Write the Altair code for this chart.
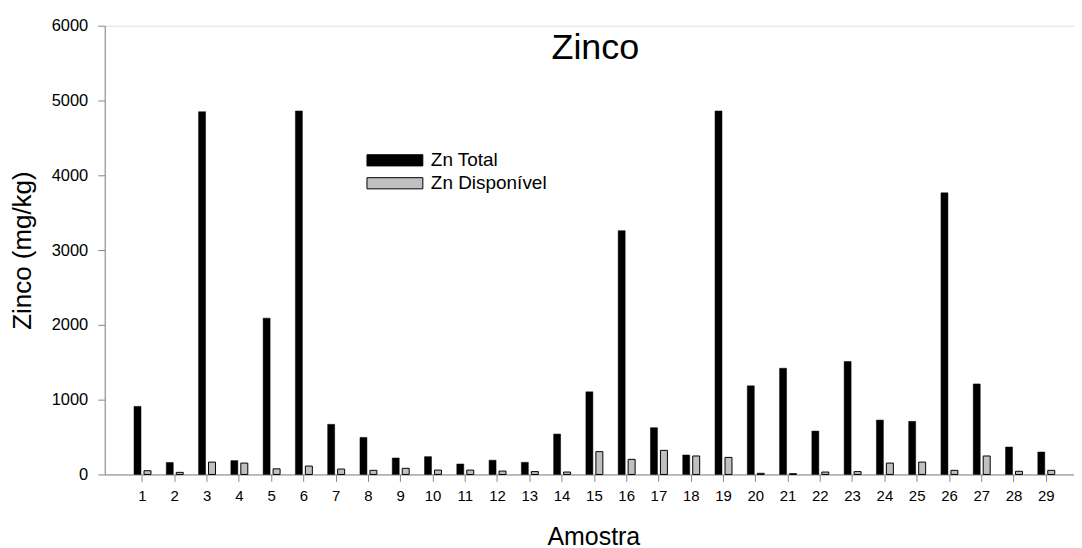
import altair as alt
import pandas as pd

amostra = list(range(1, 30))
zn_total = [910, 160, 4850, 185, 2090, 4860, 670, 495, 220, 238,
            140, 190, 162, 540, 1105, 3260, 625, 260, 4860, 1185,
            1420, 580, 1510, 727, 710, 3765, 1210, 367, 300]
zn_disp = [50, 28, 165, 152, 75, 112, 72, 55, 82, 58,
           58, 45, 38, 32, 305, 202, 322, 247, 228, 15,
           10, 32, 38, 152, 165, 55, 247, 42, 55]
series = ["Zn Total", "Zn Disponível"]
colors = ["#000000", "#c0c0c0"]
y_ticks = [0, 1000, 2000, 3000, 4000, 5000, 6000]
chart_title = ["Zinco"]

df = pd.DataFrame({"Amostra": amostra, "Zn Total": zn_total, "Zn Disponível": zn_disp})

FONT = "Liberation Sans"

base = alt.Chart(df).transform_fold(series, as_=["serie", "valor"])

x_enc = alt.X(
    "Amostra:Q",
    scale=alt.Scale(domain=[0, 29.72], nice=False, zero=False),
    axis=alt.Axis(values=amostra, title="Amostra", grid=False, tickSize=7,
                  labelPadding=7, labelFontSize=15, titleFontSize=25,
                  titleFontWeight="normal", titleX=490, titleY=70,
                  titleBaseline="alphabetic", format="d"),
)
y_enc = alt.Y(
    "valor:Q",
    scale=alt.Scale(domain=[0, 6000], nice=False),
    axis=alt.Axis(values=y_ticks, title="Zinco (mg/kg)", grid=False, tickSize=7,
                  labelPadding=10, labelFontSize=16.5, titleFontSize=26,
                  titleFontWeight="normal", titleX=-74, titleY=225,
                  titleAngle=-90, titleAlign="center", titleBaseline="alphabetic",
                  format="d"),
)
color_enc = alt.Color(
    "serie:N",
    scale=alt.Scale(domain=series, range=colors),
    legend=alt.Legend(title=None, orient="none", legendX=279, legendY=123,
                      symbolType="M-2.5,-0.5H2.5V0.5H-2.5Z", symbolSize=502,
                      symbolStrokeColor="black", symbolStrokeWidth=1,
                      symbolOpacity=1,
                      labelFontSize=19, labelFont=FONT, labelColor="black",
                      rowPadding=1, labelOffset=24),
)

total = base.transform_filter(alt.datum.serie == "Zn Total").mark_bar(
    size=7, xOffset=-4.5, stroke="black", strokeWidth=0.5
).encode(x=x_enc, y=y_enc, color=color_enc)

disp = base.transform_filter(alt.datum.serie == "Zn Disponível").mark_bar(
    size=7, xOffset=5.5, stroke="black", strokeWidth=1
).encode(x=x_enc, y=y_enc, color=color_enc)

title_layer = alt.Chart(pd.DataFrame({"t": chart_title})).mark_text(
    font=FONT, fontSize=36, color="black", align="center", baseline="alphabetic"
).encode(text="t:N", x=alt.value(492), y=alt.value(33.5))

chart = alt.layer(total, disp, title_layer).properties(
    width=972, height=450,
    autosize=alt.AutoSizeParams(type="none"),
    padding={"left": 97, "top": 17, "right": 0, "bottom": 73},
).configure_view(strokeWidth=0).configure_axis(
    domainColor="black", tickColor="black", labelColor="black", titleColor="black",
    labelFont=FONT, titleFont=FONT, domainWidth=1.5, tickWidth=1.5,
).configure(background="white")

chart.save("out.html", embed_options={"renderer": "svg", "actions": False})
